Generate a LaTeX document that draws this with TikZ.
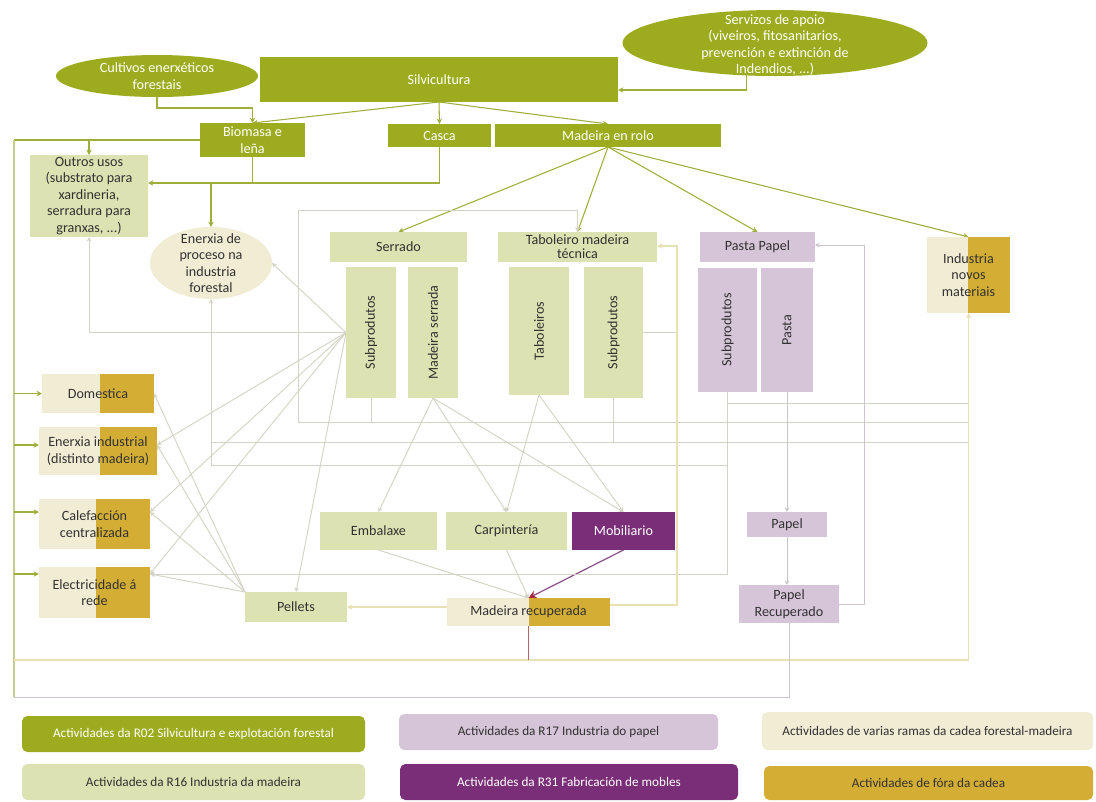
\documentclass[tikz,border=0pt]{standalone}
\usepackage{fontspec}
\setmainfont{Carlito}
\usetikzlibrary{shapes.geometric,arrows.meta,calc}
\pgfdeclarelayer{bg}
\pgfsetlayers{bg,main}

\definecolor{cOlive}{RGB}{157,172,30}
\definecolor{cWood}{RGB}{220,226,178}
\definecolor{cPaper}{RGB}{214,196,216}
\definecolor{cFurn}{RGB}{122,46,120}
\definecolor{cCream}{RGB}{241,236,212}
\definecolor{cGold}{RGB}{212,174,52}
\definecolor{cLine}{RGB}{212,212,198}
\definecolor{cYline}{RGB}{232,225,180}
\definecolor{cPline}{RGB}{205,196,205}
\definecolor{cRline}{RGB}{176,104,104}
\definecolor{cGline}{RGB}{160,175,60}
\definecolor{cTrunk}{RGB}{196,205,140}
\definecolor{cRed}{RGB}{170,40,60}
\definecolor{cText}{RGB}{50,50,50}

% one box given by its corners (x1,y1) (x2,y2) in pixel units
\newcommand\mkbox[7]{\node[#2, minimum width={(#5-#3)*0.75pt}, minimum height={(#6-#4)*0.75pt}] (#1) at ({(#3+#5)/2},{(#4+#6)/2}) {#7};}

\tikzset{
  x=0.75pt, y=-0.75pt,
  txt/.style={font=\fontsize{10.6}{12.4}\selectfont, align=center, text=cText},
  box/.style={txt, draw=none, inner sep=1pt, outer sep=0pt},
  r02/.style={box, fill=cOlive, text=white},
  r16/.style={box, fill=cWood},
  r17/.style={box, fill=cPaper},
  r31/.style={box, fill=cFurn, text=white},
  split/.style={box, fill=cCream, path picture={
      \fill[cGold] ($(path picture bounding box.north west)!#1!(path picture bounding box.north east)$)
        rectangle (path picture bounding box.south east);}},
  split/.default=0.5,
  oval/.style={ellipse, draw=none, inner sep=0pt, outer sep=0pt},
  leg/.style={box, rounded corners=4pt, font=\fontsize{9.9}{12}\selectfont},
  gline/.style={draw=cGline, line width=0.8pt},
  garrow/.style={gline, -{Stealth[length=4pt,width=4pt]}},
  trunk/.style={draw=cTrunk, line width=1pt},
  lline/.style={draw=cLine, line width=0.7pt},
  larrow/.style={lline, -{Stealth[length=3.5pt,width=3.5pt]}},
  yline/.style={draw=cYline, line width=1.2pt},
  yarrow/.style={yline, -{Stealth[length=4pt,width=4pt]}},
  pline/.style={draw=cPline, line width=0.7pt},
  parrow/.style={pline, -{Stealth[length=3.5pt,width=3.5pt]}},
  rline/.style={draw=cRline, line width=0.6pt},
  furn/.style={draw=cFurn!85, line width=0.9pt, -{Stealth[length=6pt,width=6pt,color=cRed]}},
}

\begin{document}
\begin{tikzpicture}
\useasboundingbox (0,0) rectangle (1096,801);

% ---------- forestry ----------
\mkbox{silv}{r02}{260}{57}{618}{102}{Silvicultura}
\node[oval, fill=cOlive, minimum width=151.5pt, minimum height=31.5pt] (cult) at (157,76) {};
\node[txt, text=white] (cultT) at (cult.center) {Cultivos enerxéticos\\forestais};
\node[oval, fill=cOlive, minimum width=228.75pt, minimum height=49.5pt] (serv) at (775,43) {};
\node[txt, text=white] (servT) at (775,45) {Servizos de apoio\\(viveiros, fitosanitarios,\\prevención e  extinción de\\Indendios, ...)};
\mkbox{biom}{r02}{200}{123}{305}{157}{Biomasa e\\leña}
\mkbox{casca}{r02}{388}{124}{491}{147}{Casca}
\mkbox{rolo}{r02}{495}{124}{721}{147}{Madeira en rolo}

% ---------- uses ----------
\mkbox{outros}{r16}{30}{155}{148}{237}{Outros usos\\(substrato para\\xardineria,\\serradura para\\granxas, ...)}
\node[oval, fill=cCream, minimum width=91.5pt, minimum height=54pt] (enerp) at (211,263) {};
\node[txt] (enerpT) at (enerp.center) {Enerxia de\\proceso na\\industria\\forestal};

% ---------- wood industry ----------
\mkbox{serr}{r16}{330}{232}{467}{262}{Serrado}
\mkbox{subS}{r16}{346}{267}{396}{398}{\rotatebox{90}{Subprodutos}}
\mkbox{msrr}{r16}{408}{267}{458}{398}{\rotatebox{90}{Madeira serrada}}
\mkbox{tab}{r16, font=\fontsize{10.6}{10.5}\selectfont}{498}{232}{657}{262}{Taboleiro madeira\\técnica}
\mkbox{tabs}{r16}{509}{267}{569}{395}{\rotatebox{90}{Taboleiros}}
\mkbox{subT}{r16}{584}{267}{643}{398}{\rotatebox{90}{Subprodutos}}

% ---------- paper industry ----------
\mkbox{pp}{r17}{700}{232}{815}{262}{Pasta Papel}
\mkbox{subP}{r17}{698}{268}{757}{392}{\rotatebox{90}{Subprodutos}}
\mkbox{pasta}{r17}{761}{268}{813}{392}{\rotatebox{90}{Pasta}}
\mkbox{papel}{r17}{747}{512}{827}{537}{Papel}
\mkbox{prec}{r17}{739}{585}{839}{623}{Papel\\Recuperado}

\mkbox{ind}{split=0.49}{927}{237}{1010}{313}{Industria\\novos\\materiais}

% ---------- energy ----------
\mkbox{dom}{split=0.52}{42}{374}{154}{413}{Domestica}
\mkbox{eind}{split=0.52}{39}{427}{157}{475}{Enerxia industrial\\(distinto madeira)}
\mkbox{calef}{split=0.51}{39}{499}{150}{549}{Calefacción\\centralizada}
\mkbox{elec}{split=0.51}{39}{567}{150}{618}{Electricidade á\\rede}

% ---------- products ----------
\mkbox{emb}{r16}{320}{512}{437}{550}{Embalaxe}
\mkbox{carp}{r16}{446}{512}{567}{550}{Carpintería}
\mkbox{mob}{r31}{572}{512}{675}{550}{Mobiliario}
\mkbox{pell}{r16}{245}{592}{347}{622}{Pellets}
\mkbox{mrec}{split=0.5}{447}{598}{610}{626}{Madeira recuperada}

% ---------- key ----------
\mkbox{lgA}{leg, fill=cOlive, text=white}{22}{716}{365}{752}{Actividades da R02 Silvicultura e explotación forestal}
\mkbox{lgB}{leg, fill=cPaper}{399}{714}{718}{750}{Actividades da R17 Industria do papel}
\mkbox{lgC}{leg, fill=cCream}{762}{712}{1093}{750}{Actividades de varias ramas da cadea forestal-madeira}
\mkbox{lgD}{leg, fill=cWood}{22}{764}{365}{800}{Actividades da R16 Industria da madeira}
\mkbox{lgE}{leg, fill=cFurn, text=white}{400}{764}{738}{800}{Actividades da R31 Fabricación de mobles}
\mkbox{lgF}{leg, fill=cGold}{764}{766}{1093}{800}{Actividades de fóra da cadea}

\begin{pgfonlayer}{bg}
\fill[white] (0,0) rectangle (1096,801);
% forest flows
\draw[garrow] (cult.south) -- ++(0,11) -| (biom.north);
\draw[garrow] (silv.south) -- (biom.north);
\draw[garrow] (silv.south) -- (casca.north);
\draw[garrow] (silv.south) -- (rolo.north);
\draw[garrow] (serv.229) |- (silv.east |- 0,90);
\draw[garrow] (rolo.south) -- (serr.north);
\draw[garrow] (rolo.south) -- (tab.north);
\draw[garrow] (rolo.south) -- (pp.north);
\draw[garrow] (rolo.south) -- (ind.north);

% biomass trunk on the left
\coordinate (tl) at (14,140);
\coordinate (bl) at (14,697);
\draw[gline] (biom.west |- tl) -- (tl);
\draw[trunk] (tl) -- (bl);
\draw[garrow] (outros.north |- tl) -- (outros.north);
\draw[garrow] (tl |- dom.west) -- (dom.west);
\draw[garrow] (tl |- 0,445) -- (eind.west |- 0,445);
\draw[garrow] (tl |- 0,512) -- (calef.west |- 0,512);
\draw[garrow] (tl |- 0,574) -- (elec.west |- 0,574);

% biomass and bark below
\draw[gline] (biom.south) -- (biom.south |- 0,183);
\draw[garrow] (casca.south) |- (outros.east |- 0,183);
\draw[garrow] (enerp.north |- 0,183) -- (enerp.north);

% sawmill by-products
\draw[larrow] (subS.west) -| (outros.south);
\draw[larrow] (subS.west) -- (enerp.east);
\draw[larrow] (subS.west) -- (eind.east |- 0,445);
\draw[larrow] (subS.west) -- (calef.east |- 0,512);
\draw[larrow] (subS.west) -- (elec.east |- 0,574);
\draw[larrow] (subS.west) -- (pell.north);

% pellets to energy
\draw[larrow] (pell.north west) -- (dom.east);
\draw[larrow] (pell.north west) -- (eind.east |- 0,445);
\draw[larrow] (pell.north west) -- (calef.east |- 0,512);
\draw[larrow] (pell.north west) -- (elec.east |- 0,574);
\draw[yarrow] (mrec.west |- pell.east) -- (pell.east);

% sawn wood and panels to products
\draw[larrow] (msrr.south) -- (emb.north);
\draw[larrow] (msrr.south) -- (carp.north);
\draw[larrow] (msrr.south) -- (mob.north);
\draw[larrow] (tabs.south) -- (carp.north);
\draw[larrow] (tabs.south) -- (mob.north);
\draw[larrow] (emb.south) -- (mrec.north);
\draw[larrow] (carp.south) -- (mrec.north);
\draw[furn] (mob.south) -- (mrec.north);

% by-product loops
\coordinate (lpA) at (298,422);
\coordinate (lpB) at (298,210);
\draw[larrow] (subS.south) |- (lpA) -- (lpB) -| (tab.north);
\draw[lline] (lpA) -- (ind.south |- lpA);
\draw[lline] (subT.south) -- (subT.south |- 0,442);
\draw[lline] (enerp.south |- 0,442) -- (ind.south |- 0,442);
\draw[larrow] (enerp.south |- 0,465) -- (enerp.south);
\draw[lline] (enerp.south |- 0,465) -| (subP.south);
\draw[larrow] (subP.south) |- (elec.east |- 0,574);
\draw[lline] (subP.south |- 0,403) -- (ind.south |- 0,403);

% recovered wood
\draw[yline] (bl |- 0,660) -- (ind.south |- 0,660);
\draw[yarrow] (ind.south |- 0,660) -- (ind.south);
\draw[rline] (mrec.south) -- (mrec.south |- 0,660);
\coordinate (tv) at (677,246);
\draw[lline] (subT.east |- 0,332) -- (tv |- 0,332);
\draw[yarrow] (mrec.east |- 0,605) -| (tv) -- (tab.east |- tv);

% paper chain
\coordinate (pv) at (864,245);
\draw[parrow] (prec.east) -| (pv) -- (pp.east |- pv);
\draw[parrow] (pasta.south) -- (papel.north);
\draw[parrow] (papel.south) -- (papel.south |- prec.north);
\draw[pline] (prec.south) |- (bl);
\end{pgfonlayer}
\end{tikzpicture}
\end{document}
